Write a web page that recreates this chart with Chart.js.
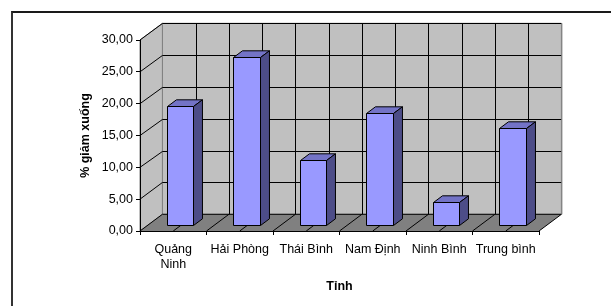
<!DOCTYPE html>
<html>
<head>
<meta charset="utf-8">
<script src="https://cdn.jsdelivr.net/npm/chart.js@4/dist/chart.umd.min.js"></script>
<style>
html,body{margin:0;padding:0;background:#fff;overflow:hidden}
#wrap{position:relative;width:611px;height:306px}
#frame{position:absolute;left:11px;top:11px;width:700px;height:400px;border-top:2px solid #1a1a1a;border-left:2px solid #333}
canvas{position:absolute;left:0;top:0}
</style>
</head>
<body>
<div id="wrap"><div id="frame"></div><canvas id="myChart" width="611" height="306"></canvas></div>
<script>
var tinh=[['Quảng','Ninh'],'Hải Phòng','Thái Bình','Nam Định','Ninh Bình','Trung bình']
var giam=[18.8,26.5,10.4,17.7,3.7,15.4]
var yMax=30
var yStep=5

// depth of the 3D box
var DX=22.4, DY=-16.7
var font='"Liberation Sans", Arial, sans-serif'

function line(ctx,x1,y1,x2,y2){
  ctx.beginPath();ctx.moveTo(x1,y1);ctx.lineTo(x2,y2);ctx.stroke()
}
function poly(ctx,pts,fill,stroke){
  ctx.beginPath()
  ctx.moveTo(pts[0][0],pts[0][1])
  for(var i=1;i<pts.length;i++) ctx.lineTo(pts[i][0],pts[i][1])
  ctx.closePath()
  ctx.fillStyle=fill;ctx.fill()
  if(stroke){ctx.strokeStyle=stroke;ctx.stroke()}
}

var walls={
  id:'walls',
  beforeDraw:function(chart){
    var ctx=chart.ctx, x=chart.scales.x, y=chart.scales.y
    var L=chart.chartArea.left, R=chart.chartArea.right
    var T=y.getPixelForValue(yMax), B=y.getPixelForValue(0)
    ctx.save()
    ctx.lineWidth=1
    // back wall
    poly(ctx,[[L+DX,T+DY],[R+DX,T+DY],[R+DX,B+DY],[L+DX,B+DY]],'#c0c0c0','#808080')
    // side wall
    poly(ctx,[[L,T],[L+DX,T+DY],[L+DX,B+DY],[L,B]],'#c0c0c0','#808080')
    // floor
    poly(ctx,[[L,B],[R,B],[R+DX,B+DY],[L+DX,B+DY]],'#808080',null)
    ctx.strokeStyle='#000'
    // horizontal grid on back + side wall
    for(var v=yStep;v<=yMax;v+=yStep){
      var py=Math.round(y.getPixelForValue(v)+DY)+0.5
      line(ctx,L+DX,py,R+DX,py)
      line(ctx,L,y.getPixelForValue(v),L+DX,py)
    }
    // vertical grid at every half category, continued across the floor
    var step=x.getPixelForValue(1)-x.getPixelForValue(0)
    var x0=x.getPixelForValue(0)-step/2
    for(var j=0;j<=tinh.length*2;j++){
      var px=x0+j*step/2
      var bx=Math.round(px+DX)+0.5
      if(j>0 && j<tinh.length*2) line(ctx,bx,T+DY,bx,B+DY)
      line(ctx,px,B,px+DX,B+DY)
    }
    line(ctx,L+DX,B+DY,R+DX,B+DY)
    ctx.strokeStyle='#808080'
    line(ctx,R+DX+0.5,T+DY,R+DX+0.5,B+DY)
    ctx.restore()
  },
  afterDatasetsDraw:function(chart){
    var ctx=chart.ctx
    var meta=chart.getDatasetMeta(0)
    var f0=0.3, f1=0.7
    var ox=DX*(f1-f0), oy=DY*(f1-f0)
    ctx.save()
    ctx.lineWidth=1
    ctx.strokeStyle='#000'
    ctx.lineJoin='miter'
    meta.data.forEach(function(el){
      var hw=el.width/2
      var xa=Math.round(el.x-hw+DX*f0)+0.5, xb=Math.round(el.x+hw+DX*f0)+0.5
      var yt=Math.round(el.y+DY*f0)+0.5, yb=Math.round(el.base+DY*f0)+0.5
      poly(ctx,[[xa,yt],[xb,yt],[xb+ox,yt+oy],[xa+ox,yt+oy]],'#7373c6','#000')
      poly(ctx,[[xb,yt],[xb+ox,yt+oy],[xb+ox,yb+oy],[xb,yb]],'#4d4d88','#000')
      poly(ctx,[[xa,yt],[xb,yt],[xb,yb],[xa,yb]],'#9999ff','#000')
    })
    ctx.restore()
  }
}

var myChart=document.getElementById('myChart').getContext('2d')
var chart=new Chart(myChart,{
  type:'bar',
  data:{
    labels:tinh,
    datasets:[{
      label:'% giảm xuống',
      data:giam,
      backgroundColor:'rgba(0,0,0,0)',
      borderWidth:0,
      barPercentage:0.4,
      categoryPercentage:1
    }]
  },
  options:{
    responsive:false,
    animation:false,
    layout:{padding:{left:0,top:40,right:72,bottom:0}},
    plugins:{legend:{display:false},tooltip:{enabled:false}},
    scales:{
      x:{
        grid:{offset:true,drawOnChartArea:false,color:'#000',tickLength:4},
        border:{color:'#000'},
        ticks:{color:'#000',autoSkip:false,maxRotation:0,padding:7,
          font:{family:font,size:12.5,lineHeight:1.2}},
        title:{display:true,text:'Tỉnh',color:'#000',padding:{top:0,bottom:11.5},
          font:{family:font,size:12.5,weight:'bold',lineHeight:1.2}},
        afterFit:function(s){s.height=75}
      },
      y:{
        min:0,max:yMax,
        grid:{drawOnChartArea:false,color:'#000',tickLength:4},
        border:{color:'#000'},
        ticks:{stepSize:yStep,color:'#000',padding:3,
          font:{family:font,size:12.5},
          callback:function(v){return v.toFixed(2).replace('.',',')}},
        title:{display:true,text:'% giảm xuống',color:'#000',padding:{top:78.5,bottom:0},
          font:{family:font,size:12.5,weight:'bold',lineHeight:1.2}},
        afterFit:function(s){s.width=140}
      }
    }
  },
  plugins:[walls]
})
</script>
</body>
</html>
